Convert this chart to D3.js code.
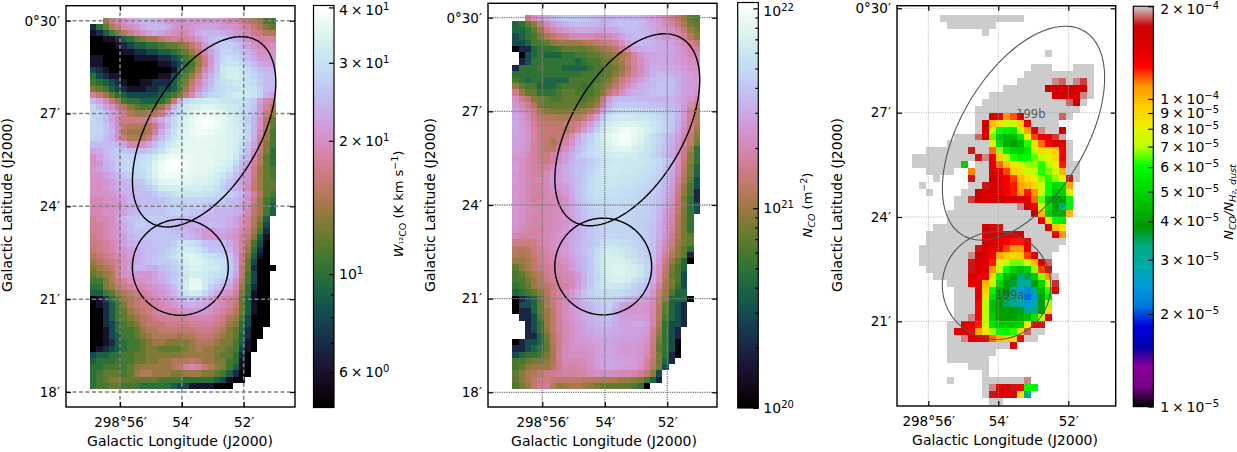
<!DOCTYPE html>
<html>
<head>
<meta charset="utf-8">
<script src="https://cdn.jsdelivr.net/npm/d3@7"></script>
<style>
html, body { margin: 0; padding: 0; background: #fff; }
svg text { font-family: "DejaVu Sans", sans-serif; fill: #000; }
.domain { display: none; }
.tick line { stroke-width: 1.2; }
</style>
</head>
<body>
<svg id="fig" width="1237" height="452"></svg>
<script>
// W12CO in K km/s, one row per map line from the top, 0 = no data
const wcoRows = [
[0,0,14,17,19,20,22,23,24,24,24,23,21,20,20,21,21,21,21,21,21,20,19,19,17,16,15,14,11,11],
[7,10,12,15,17,19,20,21,23,24,25,24,23,21,20,20,21,22,22,22,22,21,21,20,19,18,16,15,13,12],
[6,7,9,11,13,15,17,19,20,22,23,22,21,20,19,19,21,23,24,24,24,23,22,21,20,19,17,17,15,15],
[5,5,6,6,7,9,10,12,13,14,14,16,17,18,17,18,19,21,23,25,26,26,25,23,22,20,19,18,18,18],
[5,5,5,5,6,7,8,9,9,10,10,11,12,12,13,14,16,18,21,24,26,27,27,26,24,22,20,19,19,20],
[5,5,5,5,5,6,6,7,7,8,8,9,9,10,11,12,14,16,19,22,25,28,28,27,26,24,22,20,20,21],
[6,6,5,5,5,5,5,6,6,6,6,7,7,8,9,11,12,14,17,21,25,29,30,29,27,25,23,21,21,21],
[6,6,5,5,5,5,5,5,5,5,5,6,6,7,8,10,11,14,17,21,26,30,31,31,29,27,25,23,22,22],
[8,7,6,5,5,5,5,5,5,5,5,5,5,6,9,11,12,15,19,22,26,31,33,33,31,29,27,25,24,24],
[10,8,7,6,6,5,5,5,5,5,5,6,6,8,10,12,14,17,21,24,27,31,33,33,32,30,28,26,25,25],
[11,10,9,8,7,6,5,5,6,6,7,7,7,9,11,13,16,19,22,25,28,30,31,32,31,30,29,27,25,25],
[13,12,11,9,8,7,6,6,6,7,7,8,8,9,11,14,17,20,23,26,28,29,30,30,31,31,30,28,25,24],
[18,16,14,12,10,9,8,8,8,8,8,9,10,11,13,16,19,23,26,28,29,30,31,32,32,32,31,28,24,22],
[24,22,19,16,14,11,10,10,9,9,9,10,12,16,23,28,30,31,32,32,32,31,31,30,30,29,27,22,19,18],
[28,25,22,20,17,15,13,12,11,11,12,14,17,23,28,31,33,34,35,35,34,33,32,31,30,28,26,21,18,15],
[29,28,25,22,20,17,15,14,14,15,15,17,22,27,30,32,35,37,38,38,36,35,33,31,30,28,25,21,17,14],
[29,27,25,22,19,17,17,17,17,18,20,23,26,29,32,34,37,39,40,40,38,36,34,32,30,27,24,20,15,12],
[29,28,26,23,20,16,15,15,15,15,17,21,25,29,32,34,36,38,39,39,38,36,34,33,31,28,24,20,15,12],
[29,28,26,24,20,15,14,14,14,15,18,23,27,30,33,35,37,38,38,37,36,35,34,33,31,28,24,19,14,11],
[28,27,25,23,20,17,15,15,15,17,21,25,28,31,33,35,36,37,37,36,36,35,34,33,31,28,23,18,14,11],
[25,25,25,25,24,22,19,19,20,22,25,28,31,33,35,36,36,36,36,36,35,35,34,33,30,26,22,17,13,11],
[22,23,25,26,27,26,25,25,25,26,28,30,33,35,36,36,36,36,36,35,35,35,34,33,29,25,20,16,13,10],
[20,22,24,26,27,28,28,28,29,30,32,35,37,38,38,37,37,36,36,36,35,35,34,31,27,24,19,15,12,10],
[20,21,24,25,27,28,29,29,30,31,34,37,39,40,40,38,37,36,36,36,35,34,33,29,25,22,18,15,12,10],
[21,22,23,25,27,28,29,29,30,32,35,38,40,40,39,38,37,36,36,35,34,33,31,27,24,21,17,14,12,11],
[20,21,22,23,25,26,27,28,29,31,34,37,38,38,38,37,36,35,35,34,33,31,28,25,23,20,17,14,12,11],
[20,20,21,22,23,24,25,26,27,29,32,35,36,36,36,35,35,34,34,33,32,29,26,24,22,20,16,14,12,12],
[20,20,21,22,23,24,24,25,26,27,29,32,33,33,33,33,33,33,32,32,30,27,25,24,22,19,16,14,12,12],
[20,20,20,21,22,23,24,25,25,25,26,28,29,30,31,31,31,31,30,30,29,28,27,26,24,21,18,15,12,11],
[19,19,20,20,21,22,24,24,25,25,25,26,27,28,28,28,28,28,28,27,27,26,25,24,23,20,17,14,11,10],
[19,19,19,20,20,22,23,24,25,25,25,26,27,27,27,27,27,27,26,25,25,25,25,24,22,20,16,14,11,9],
[19,19,20,20,21,22,24,25,26,26,26,26,27,28,28,27,26,26,25,25,24,24,24,23,22,19,16,14,11,9],
[18,19,19,20,22,24,26,26,27,27,27,27,26,26,25,25,24,24,24,24,24,24,23,22,20,18,15,13,9,0],
[18,18,19,20,21,23,25,27,27,26,26,26,25,25,24,23,23,24,24,25,25,24,23,22,20,18,15,12,8,0],
[18,18,19,20,21,23,25,26,26,26,26,26,26,25,25,24,23,22,21,21,22,23,22,21,19,17,14,11,7,0],
[17,18,19,20,21,22,24,25,26,26,26,26,26,26,26,25,24,23,21,21,21,22,21,20,18,16,13,9,6,0],
[17,17,18,19,20,22,23,24,25,25,26,26,26,27,30,31,30,28,26,25,25,25,23,21,18,15,11,8,5,0],
[16,17,18,19,20,21,22,23,24,25,25,26,27,29,31,33,33,31,28,26,26,26,24,21,18,14,10,7,5,0],
[15,16,17,18,19,20,22,23,24,25,26,27,28,30,32,34,35,33,31,30,29,28,26,22,17,13,9,6,5,0],
[14,15,16,17,18,20,21,23,24,25,26,27,27,28,30,33,35,35,33,32,31,30,27,23,17,12,8,5,5,0],
[13,14,15,16,18,20,22,24,24,23,23,25,26,27,29,32,34,34,33,32,32,30,27,23,16,12,7,5,5,5],
[12,13,14,15,18,20,21,21,21,21,22,24,25,26,28,31,33,33,32,31,30,29,26,22,16,11,8,5,5,0],
[11,11,13,15,17,18,20,20,20,21,22,23,25,27,29,32,36,35,32,30,28,26,24,20,15,11,8,5,5,0],
[10,10,13,14,16,17,18,19,19,20,21,22,23,25,28,33,37,37,32,28,26,24,22,19,14,10,7,5,5,0],
[9,9,11,12,14,15,16,17,18,19,20,21,22,24,27,31,33,32,29,26,23,21,20,18,13,10,6,5,5,0],
[5,6,8,10,12,14,15,16,17,18,19,20,21,22,24,26,26,25,24,22,20,19,18,17,12,9,6,5,5,0],
[5,6,7,9,11,13,15,16,17,17,18,19,20,21,22,23,24,23,22,21,20,19,18,16,12,9,6,5,5,0],
[5,5,7,9,11,12,14,15,16,17,18,19,19,19,20,21,21,21,21,20,19,18,17,15,12,9,6,5,5,0],
[5,5,7,9,11,12,13,14,15,16,17,18,18,18,18,18,19,19,19,19,18,17,15,14,11,8,5,5,5,0],
[5,5,7,8,10,11,12,13,15,16,16,16,17,17,17,17,18,18,18,18,17,16,14,13,10,8,5,5,5,0],
[5,5,6,8,10,11,11,12,14,15,15,16,16,16,16,16,16,17,17,17,16,15,13,12,10,7,5,5,0,0],
[5,5,6,8,9,11,11,12,13,14,15,15,15,15,14,15,15,16,16,16,15,14,13,12,9,7,5,5,0,0],
[5,5,6,7,9,10,11,11,12,13,14,14,13,13,13,13,14,15,15,15,14,13,13,11,9,6,5,0,0,0],
[5,6,7,8,9,10,11,11,12,13,13,12,12,12,12,13,14,15,14,14,13,13,12,11,8,6,5,0,0,0],
[8,9,9,10,10,11,11,12,12,13,13,13,13,13,13,14,14,14,14,14,13,12,12,10,7,5,0,0,0,0],
[9,10,10,10,11,11,11,12,12,13,13,14,14,15,15,15,16,15,14,14,13,13,11,10,6,5,0,0,0,0],
[10,10,11,11,11,11,12,13,14,14,14,14,14,15,16,18,19,18,16,15,14,13,11,9,6,5,0,0,0,0],
[10,11,12,12,12,11,12,14,15,15,14,14,14,13,13,14,14,14,13,13,12,11,9,7,5,5,0,0,0,0],
[10,11,12,13,13,12,12,12,12,12,12,11,11,11,11,10,10,10,10,10,9,8,6,5,5,0,0,0,0,0],
[10,11,11,12,12,11,11,11,10,10,10,10,10,9,8,8,6,6,6,6,5,5,5,0,0,0,0,0,0,0]
]

// N_CO in units of 1e20 m^-2
const ncoRows = [
[0,0,16,22,26,30,35,40,42,43,42,40,38,35,33,33,34,34,34,34,33,30,27,24,20,16,13,10,7,6],
[4,5,7,9,14,20,25,29,33,35,36,36,35,33,32,33,36,38,38,38,36,32,29,25,21,18,14,11,8,7],
[4,4,5,7,10,15,19,22,25,27,30,30,29,28,27,28,30,34,36,36,35,33,30,26,24,22,18,14,10,8],
[3,4,5,6,8,11,13,15,17,20,20,21,20,19,19,20,23,28,33,35,35,33,30,27,25,24,20,17,12,9],
[3,3,4,6,6,7,9,10,10,10,10,11,12,13,14,15,17,22,28,33,36,35,33,30,29,27,24,20,16,14],
[1,2,2,4,5,5,5,6,7,7,7,7,8,9,10,11,13,17,22,27,30,32,32,31,30,29,26,22,19,17],
[0,1,3,4,5,4,4,4,5,5,6,6,7,7,8,9,10,11,13,18,24,28,29,30,29,28,26,23,20,20],
[0,2,3,5,5,5,5,5,5,5,4,5,6,6,7,8,9,11,14,18,22,26,29,30,29,28,26,24,22,21],
[2,5,5,5,6,5,5,5,4,4,4,4,5,6,6,7,8,10,13,17,21,26,31,32,30,30,28,26,23,23],
[5,5,5,5,5,5,5,5,5,5,5,6,6,6,6,7,9,11,14,18,22,27,33,35,35,32,30,28,26,24],
[6,5,4,5,5,4,4,4,4,6,6,6,6,6,7,8,11,15,18,22,27,31,36,38,38,36,31,28,26,25],
[10,7,6,6,4,4,4,5,6,6,6,5,6,7,8,10,13,17,22,27,31,33,36,40,40,38,32,28,26,25],
[16,10,7,7,5,5,5,6,7,7,6,6,6,7,9,13,17,22,28,31,33,35,37,38,38,36,32,28,26,24],
[22,16,13,9,8,7,6,6,7,7,7,6,7,8,14,24,33,36,36,36,35,34,34,33,33,33,30,27,23,20],
[24,20,16,12,8,7,7,7,7,7,7,7,8,10,17,30,40,42,42,42,40,40,38,37,36,34,31,26,21,16],
[27,22,19,15,11,9,8,8,8,8,9,10,12,15,26,38,48,52,52,52,50,48,46,44,42,38,33,25,17,12],
[29,25,20,16,13,12,12,11,11,12,12,14,18,26,40,55,62,65,65,62,60,58,54,50,46,42,33,24,17,12],
[30,25,22,17,14,13,13,13,14,15,16,20,26,36,50,65,72,75,76,74,70,66,60,54,48,42,32,23,16,12],
[29,26,23,18,16,14,14,13,13,14,18,24,32,44,58,70,80,90,92,88,78,70,62,54,48,40,30,21,15,10],
[28,26,24,19,15,14,13,14,16,21,28,38,46,55,68,80,90,100,100,85,75,65,55,46,40,33,26,19,14,9],
[27,26,23,18,15,13,11,14,18,24,32,40,48,55,66,76,85,95,92,80,72,62,54,46,40,32,25,18,13,8],
[27,25,22,18,15,13,13,17,22,28,35,42,50,55,62,70,76,80,76,72,66,60,52,45,38,30,24,16,11,5],
[25,24,21,18,15,15,18,22,26,32,38,45,52,56,60,64,68,70,68,65,60,55,48,42,36,29,22,15,9,5],
[24,22,20,18,15,15,17,22,27,32,36,38,42,48,55,60,62,62,62,62,60,58,54,50,43,33,23,14,9,5],
[26,23,20,18,17,18,21,26,30,35,38,40,45,52,58,62,64,62,62,60,58,55,52,47,40,31,21,13,8,4],
[25,22,20,18,18,20,24,26,30,34,38,42,48,54,58,62,62,60,58,58,55,53,50,45,38,28,20,12,8,4],
[25,23,20,19,19,21,24,26,30,33,37,42,50,55,58,60,60,58,56,55,52,50,48,43,36,27,18,11,7,3],
[24,23,20,18,18,21,24,24,27,32,38,44,52,55,58,58,57,55,54,52,50,48,46,40,35,25,16,10,6,3],
[24,22,20,18,18,20,22,22,25,30,37,43,50,54,55,55,54,53,52,50,48,46,44,38,33,24,15,9,6,2],
[24,22,20,17,18,20,20,20,23,29,36,43,48,50,52,52,52,50,50,48,46,44,42,36,32,23,14,8,5,2],
[25,23,21,19,19,20,21,22,24,29,35,40,46,50,50,52,52,50,50,48,46,45,42,36,30,22,14,9,5,3],
[25,23,21,20,19,20,21,22,24,28,33,38,43,46,47,48,50,50,48,47,45,44,41,35,28,20,13,8,5,3],
[24,22,20,19,19,20,21,22,24,27,32,37,42,46,47,48,50,50,48,47,45,44,40,33,26,19,12,8,5,0],
[24,22,20,19,19,20,21,22,24,27,31,36,41,45,47,48,48,48,47,46,44,42,38,32,25,18,12,8,5,0],
[23,20,19,18,18,20,21,23,25,28,32,36,40,44,46,48,48,48,47,46,44,42,38,32,25,17,11,8,5,0],
[20,18,18,18,19,20,22,24,26,29,33,36,40,42,46,50,50,48,48,46,44,42,38,31,24,16,11,8,7,0],
[16,15,15,16,18,20,22,24,26,30,34,37,40,44,52,55,55,52,50,48,45,43,38,30,22,15,10,8,7,0],
[13,12,13,15,17,19,22,24,26,30,34,38,42,50,60,65,62,58,55,50,46,43,38,28,20,13,9,7,5,0],
[12,11,12,14,16,18,21,23,25,28,32,37,42,52,62,70,68,62,58,52,48,44,37,27,18,12,9,7,2,0],
[10,10,11,13,16,18,20,21,23,26,31,35,42,52,62,72,72,70,66,60,52,46,36,25,16,10,7,4,1,0],
[7,9,11,13,15,17,18,19,21,25,30,34,42,52,62,72,75,75,72,68,60,48,33,23,14,8,6,4,0,0],
[6,7,9,11,13,16,18,19,20,22,27,33,42,50,60,70,75,75,72,66,58,46,32,22,13,7,6,3,0,0],
[6,6,8,10,12,15,17,18,19,21,25,32,40,48,58,66,72,72,68,60,50,42,30,20,12,8,6,3,0,0],
[5,6,7,10,11,13,15,17,18,21,26,33,42,52,60,62,62,60,55,48,42,35,27,18,11,8,5,3,0,0],
[4,5,6,7,9,12,15,18,20,24,30,38,45,50,52,52,52,50,47,44,38,32,24,15,10,6,4,4,0,0],
[1,2,3,4,7,11,15,18,21,25,30,36,40,44,48,48,46,42,36,32,29,26,22,14,9,4,4,4,1,0],
[1,3,3,4,7,11,14,18,21,25,28,32,35,40,44,46,36,28,25,26,25,24,20,13,7,4,3,2,0,0],
[1,2,2,4,7,10,13,17,21,24,28,30,33,38,42,44,32,26,24,24,24,23,19,12,7,4,3,2,0,0],
[0,2,2,3,6,10,13,17,21,24,27,30,32,35,38,40,32,27,26,26,26,25,19,12,6,4,3,2,0,0],
[0,0,2,3,5,10,13,17,21,23,26,28,31,33,34,34,30,28,28,29,30,27,19,11,5,3,3,2,0,0],
[0,0,2,3,5,9,13,17,20,22,25,27,29,31,32,32,30,29,28,28,28,26,17,10,5,3,2,0,0,0],
[0,0,2,2,4,8,12,16,20,23,25,26,28,29,30,30,29,28,28,28,26,24,16,9,5,3,2,0,0,0],
[1,2,3,3,4,7,12,16,20,23,25,25,26,27,28,28,27,26,26,26,25,22,15,8,5,3,1,0,0,0],
[2,2,3,4,5,7,11,16,21,23,23,23,24,26,28,28,27,26,25,25,24,20,14,7,5,3,1,0,0,0],
[3,4,5,5,6,8,11,16,21,22,22,22,23,26,28,28,27,26,25,25,24,20,14,8,5,2,1,0,0,0],
[6,6,7,8,8,9,11,16,20,20,20,21,23,26,29,29,28,28,27,26,24,18,13,8,4,2,0,0,0,0],
[6,7,9,10,10,10,12,16,19,19,19,20,22,25,28,29,28,27,26,26,23,17,12,8,3,0,0,0,0,0],
[7,9,11,12,13,15,16,17,18,18,18,19,21,22,22,22,21,20,20,19,17,14,9,3,0,0,0,0,0,0],
[7,9,11,13,15,15,14,13,13,13,13,12,12,12,11,11,11,10,10,9,8,6,4,2,0,0,0,0,0,0],
[6,8,10,13,16,16,12,9,10,11,11,10,9,8,7,7,7,7,7,6,5,1,0,0,0,0,0,0,0,0]
]

// N_CO / N_H2 in units of 1e-6, g = at or above the top of the scale
const g = 200
const ratioRows = [
[0,0,0,0,g,g,g,g,g,g,g,g,g,g,g,g],
[0,0,0,0,0,g,g,g,g,g,g,g],
[0,0,0,0,0,0,0,0,0,0,g],
[],
[],
[0,0,0,0,0,0,0,0,0,0,0,0,0,0,0,0,0,0,0,g],
[],
[0,0,0,0,0,0,0,0,0,0,0,0,0,0,0,0,0,g,g,g,0,0,0,g,g,g],
[0,0,0,0,0,0,0,0,0,0,0,0,0,0,0,0,g,g,g,g,g,g,g,g,g,g],
[0,0,0,0,0,0,0,0,0,0,0,0,0,0,0,g,g,g,g,g,190,185,g,190,180,g],
[0,0,0,0,0,0,0,0,0,0,0,0,0,g,g,g,g,g,g,165,160,160,160,160,160,g],
[0,0,0,0,0,0,0,0,0,0,0,g,g,g,g,g,g,g,g,g,165,155,155,145,190,g],
[0,0,0,0,0,0,0,0,0,0,g,g,g,g,g,g,g,g,g,g,g,g,185,165,g],
[0,0,0,0,0,0,0,0,0,g,g,g,g,g,g,g,g,g,g,g,g,g,g,g],
[0,0,0,0,0,0,0,0,0,g,g,155,135,110,118,145,g,g,g,g,g,185,g],
[0,0,0,0,0,0,0,0,0,g,160,100,85,72,72,95,150,g,g,g,g],
[0,0,0,0,0,0,0,0,0,g,155,72,60,58,55,72,105,150,190,g,g,170],
[0,0,0,0,0,0,g,g,g,185,150,65,48,45,45,55,82,120,145,145,180,195],
[0,0,0,0,0,g,g,g,g,g,g,82,52,42,40,45,62,88,115,130,148,150,g],
[0,0,g,g,g,g,g,g,175,g,g,115,68,55,50,50,55,70,90,85,95,135,g],
[g,g,g,g,g,g,g,g,g,175,190,135,92,70,62,58,60,65,72,78,90,135,g],
[g,g,g,g,g,g,g,50,0,g,g,150,115,98,85,75,68,68,62,70,80,125,g,g],
[0,0,g,g,g,g,0,0,112,g,g,155,140,120,95,88,75,72,62,66,75,100,g,g],
[0,0,0,g,0,0,0,0,175,g,g,170,145,135,120,100,88,80,67,62,68,80,175,g],
[0,g,0,0,0,0,0,0,g,g,175,150,145,135,125,105,100,90,75,60,52,55,105],
[0,0,g,0,0,0,0,g,g,170,155,150,145,135,125,110,125,110,72,60,48,50,78],
[0,0,0,0,0,0,g,g,180,160,155,155,155,155,155,155,150,115,65,45,38,40,58],
[0,0,0,0,0,0,g,g,g,g,g,g,g,g,g,190,165,135,72,52,40,33,58],
[0,0,0,0,0,g,g,g,g,g,g,g,g,g,g,g,g,170,100,50,42,42,100],
[0,0,0,0,0,g,g,g,g,g,g,g,g,g,g,g,g,g,150,85,58,55],
[0,0,0,g,g,g,g,g,g,g,165,150,175,g,g,g,g,g,g,150,95,85],
[0,0,g,g,g,g,g,g,g,g,150,150,145,145,145,150,g,g,g,g,140,110],
[0,0,g,g,g,g,g,g,g,g,150,150,140,130,125,125,135,g,g,g,g,g],
[0,g,g,g,g,g,g,g,g,175,150,150,135,120,110,110,145,g,g,g,g],
[0,g,g,g,g,g,g,g,190,165,150,135,105,95,92,95,120,155,g,g],
[0,g,g,g,g,g,g,g,175,155,150,125,82,72,66,66,75,100,150,185],
[0,0,g,g,g,g,g,g,175,155,150,110,72,60,50,45,50,68,120,175],
[0,0,0,g,g,g,g,g,150,150,135,88,60,45,40,33,35,48,68,110,g],
[0,0,0,0,0,g,g,g,140,140,100,70,50,40,36,30,30,40,50,75,178],
[0,0,0,0,0,0,g,g,g,145,92,58,42,38,33,25,23,33,45,62,145],
[0,0,0,0,0,0,g,g,g,145,85,52,40,36,33,27,21,24,40,55],
[0,0,0,0,0,0,g,g,g,130,70,45,38,35,33,30,25,28,38,68],
[0,0,0,0,0,0,g,g,g,130,70,46,40,40,38,37,33,33,40,88],
[0,0,0,0,0,0,g,g,190,130,72,48,40,40,40,43,45,55,70,150],
[0,0,0,0,0,g,g,150,145,125,72,52,48,48,48,50,82,130,175],
[0,0,0,0,0,g,150,145,130,105,85,68,60,58,62,88,185,g,g],
[0,0,0,0,0,g,g,190,150,148,135,115,100,95,88,130,g,g],
[0,0,0,0,0,g,g,g,g,g,g,g,g,g,150],
[0,0,0,0,0,g,g,g,g,g,g,g],
[0,0,0,0,0,g,g,g,g,g,g],
[0,0,0,0,0,0,0,0,g,g,g],
[0,0,0,0,0,0,0,0,0,0,g],
[0,0,0,0,0,g,0,0,0,0,g,g,g,g,g,g,190],
[0,0,0,0,0,0,0,0,0,0,g,190,150,150,175,130,60,58],
[0,0,0,0,0,0,0,0,0,0,g,175,150,150,150,85,33],
[0,0,0,0,0,0,0,0,0,0,0,g,g]
]

// arcmin of longitude past 298 deg and of latitude past 0 deg
const lonTicks = [56, 54, 52]
const lonLabels = ["298°56′", "54′", "52′"]
const latTicks = [30, 27, 24, 21, 18]
const latLabels = ["0°30′", "27′", "24′", "21′", "18′"]

// regions: [lon, lat, major, minor, tilt in deg]
const regionB = [53.28, 26.41, 3.41, 1.79, 30.5]
const regionA = [54.05, 22.03, 1.55, 1.55, 0]

const wcoTicks = [40, 30, 20, 10, 6]
const wcoMinor = [9, 8, 7]
const ncoTicks = [1e22, 1e21, 1e20]
const ncoMinor = [9e21, 8e21, 7e21, 6e21, 5e21, 4e21, 3e21, 2e21, 9e20, 8e20, 7e20, 6e20, 5e20, 4e20, 3e20, 2e20]
const ratioTicks = [2e-4, 1e-4, 9e-5, 8e-5, 7e-5, 6e-5, 5e-5, 4e-5, 3e-5, 2e-5, 1e-5]

// matplotlib nipy_spectral
const spectralR = [0,.4667,.5333,0,0,0,0,0,0,0,0,0,0,.7333,.9333,1,1,1,.8667,.8,.8]
const spectralG = [0,0,0,0,0,.4667,.6,.6667,.6667,.6,.7333,.8667,1,1,.9333,.8,.6,0,0,0,.8]
const spectralB = [0,.5333,.6,.6667,.8667,.8667,.8667,.6667,.5333,0,0,0,0,0,0,0,0,0,0,0,.8]

const lonStep = 0.2, latStep = 0.2

const spectral = (t) => {
    const p = Math.max(0, Math.min(0.9999, t)) * 20, i = Math.floor(p), f = p - i
    const mix = (a) => Math.round(255 * (a[i] + (a[i + 1] - a[i]) * f))
    return `rgb(${mix(spectralR)},${mix(spectralG)},${mix(spectralB)})`
}

const svg = d3.select("#fig")

// value = text as  m x 10^e, or 10^e if m is null
function mathLabel(sel, m, e) {
    sel.text(null)
    sel.append("tspan").text(m === null ? "10" : `${m}\u2009×\u200910`)
    sel.append("tspan").attr("dy", -5).attr("font-size", 10).text(e)
}

function panel(opt) {
    const x = d3.scaleLinear().domain([56, 52]).range(opt.xRange)
    const y = d3.scaleLinear().domain([30, 18]).range(opt.yRange)
    const [L, R, T, B] = opt.box
    const W = R - L, H = B - T
    const id = opt.name
    svg.append("clipPath").attr("id", id).append("rect")
        .attr("x", L).attr("y", T).attr("width", W).attr("height", H)

    const plot = svg.append("g").attr("clip-path", `url(#${id})`)

    // cells
    const cells = plot.append("g").attr("shape-rendering", "crispEdges")
    opt.rows.forEach((row, j) => {
        row.forEach((v, i) => {
            if (!v) return
            const x0 = x(opt.lon0 - i * lonStep), x1 = x(opt.lon0 - (i + 1) * lonStep)
            const y0 = y(opt.lat0 - j * latStep), y1 = y(opt.lat0 - (j + 1) * latStep)
            cells.append("rect")
                .attr("x", x0).attr("y", y0)
                .attr("width", x1 - x0).attr("height", y1 - y0)
                .attr("fill", opt.color(v))
        })
    })

    // grid
    const grid = svg.append("g").attr("fill", "none")
        .attr("stroke", opt.gridColor).attr("stroke-width", opt.gridWidth)
        .attr("stroke-dasharray", opt.gridDash)
    lonTicks.forEach((t) => grid.append("line").attr("x1", x(t)).attr("x2", x(t)).attr("y1", T).attr("y2", B))
    latTicks.forEach((t) => {
        if (y(t) > B) return
        grid.append("line").attr("x1", L).attr("x2", R).attr("y1", y(t)).attr("y2", y(t))
    })

    // regions
    const outline = d3.line().x((d) => x(d[0])).y((d) => y(d[1]))
    ;[regionB, regionA].forEach((r) => {
        const th = r[4] * Math.PI / 180
        const pts = d3.range(0, 361, 3).map((a) => {
            const t = a * Math.PI / 180
            const u = r[2] * Math.cos(t), v = r[3] * Math.sin(t)
            return [r[0] - (u * Math.sin(th) + v * Math.cos(th)), r[1] + (u * Math.cos(th) - v * Math.sin(th))]
        })
        plot.append("path").attr("d", outline(pts) + "Z").attr("fill", "none")
            .attr("stroke", opt.regionColor).attr("stroke-width", opt.regionWidth)
    })

    if (opt.notes) {
        opt.notes.forEach((n) => {
            svg.append("text").attr("x", x(n[1])).attr("y", y(n[2]))
                .attr("text-anchor", "middle").attr("dominant-baseline", "middle")
                .attr("font-size", 11.5).style("fill", "#444").attr("fill-opacity", 0.85).text(n[0])
        })
    }

    // axes, ticks pointing in on all four sides
    const latVisible = latTicks.filter((t) => y(t) < B)
    svg.append("g").attr("transform", `translate(0,${B})`)
        .call(d3.axisBottom(x).tickValues(lonTicks).tickSize(-5).tickPadding(10)
            .tickFormat((d, i) => lonLabels[i]))
        .attr("font-size", 13.5)
    svg.append("g").attr("transform", `translate(0,${T})`)
        .call(d3.axisTop(x).tickValues(lonTicks).tickSize(-5).tickFormat(""))
    svg.append("g").attr("transform", `translate(${L},0)`)
        .call(d3.axisLeft(y).tickValues(latVisible).tickSize(-5).tickPadding(opt.latPad)
            .tickFormat((d) => latLabels[latTicks.indexOf(d)]))
        .attr("font-size", 13.5)
    svg.append("g").attr("transform", `translate(${R},0)`)
        .call(d3.axisRight(y).tickValues(latVisible).tickSize(-5).tickFormat(""))

    svg.append("rect").attr("x", L).attr("y", T).attr("width", W).attr("height", H)
        .attr("fill", "none").attr("stroke", "#000").attr("stroke-width", 1.4)

    svg.append("text").attr("x", opt.xLabel[0]).attr("y", opt.xLabel[1])
        .attr("text-anchor", "middle").attr("font-size", 14).text("Galactic Longitude (J2000)")
    svg.append("text").attr("transform", `translate(${opt.yLabel[0]},${opt.yLabel[1]}) rotate(-90)`)
        .attr("text-anchor", "middle").attr("font-size", 14).text("Galactic Latitude (J2000)")
}

function colorbar(opt) {
    const [L, R, T, B] = opt.box
    const y = d3.scaleLog().domain(opt.domain).range([B, T])
    const g0 = svg.append("g").attr("shape-rendering", "crispEdges")
    d3.range(Math.ceil(T), Math.ceil(B)).forEach((p) => {
        g0.append("rect").attr("x", L).attr("y", p).attr("width", R - L).attr("height", 1.2)
            .attr("fill", opt.color(y.invert(p + 0.5)))
    })
    const axis = svg.append("g").attr("transform", `translate(${R},0)`)
        .call(d3.axisRight(y).tickValues(opt.ticks).tickSize(-5).tickPadding(opt.pad).tickFormat(""))
    axis.selectAll(".tick text").attr("font-size", 14).each(function (d) {
        const s = d3.select(this)
        opt.label(s, d)
        // keep the top superscript inside the picture
        if (y(d) < 12) s.attr("y", 0).attr("dy", "0.5em")
    })
    if (opt.minor) {
        svg.append("g").attr("transform", `translate(${R},0)`)
            .call(d3.axisRight(y).tickValues(opt.minor).tickSize(-3).tickFormat(""))
    }
    svg.append("rect").attr("x", L).attr("y", T).attr("width", R - L).attr("height", B - T)
        .attr("fill", "none").attr("stroke", "#000").attr("stroke-width", 1.2)
}

// --- colour scales
const wcoT = d3.scaleLog().domain([5, 40.4]).range([0, 1]).clamp(true)
const wcoColor = (v) => d3.interpolateCubehelixDefault(wcoT(v))
const ncoT = d3.scaleLog().domain([1e20, 1.07e22]).range([0, 1]).clamp(true)
const ncoColor = (v) => d3.interpolateCubehelixDefault(ncoT(v))
const ratioT = d3.scaleLog().domain([1e-5, 2e-4]).range([0, 1]).clamp(true)
const ratioColor = (v) => spectral(ratioT(v))

panel({
    name: "p1", rows: wcoRows, color: (v) => wcoColor(v), lon0: 56.96, lat0: 30.1,
    box: [66, 295, 5.7, 407], xRange: [120, 243.7], yRange: [20.7, 392],
    gridColor: "#808080", gridWidth: 1.5, gridDash: "4,2.5",
    regionColor: "#000", regionWidth: 1.4, latPad: 6,
    xLabel: [180, 446], yLabel: [12, 205]
})
panel({
    name: "p2", rows: ncoRows, color: (v) => ncoColor(v * 1e20), lon0: 56.96, lat0: 30.1,
    box: [488, 717, 3.3, 407], xRange: [542.3, 667.3], yRange: [17.7, 392.3],
    gridColor: "#808080", gridWidth: 1.3, gridDash: "1.3,1",
    regionColor: "#000", regionWidth: 1.4, latPad: 6,
    xLabel: [604, 446], yLabel: [435, 205]
})
panel({
    name: "p3", rows: ratioRows, color: (v) => ratioColor(v * 1e-6), lon0: 56.46, lat0: 29.8,
    box: [897, 1115.7, 5.7, 406], xRange: [928.3, 1068.3], yRange: [8.3, 425.7],
    gridColor: "#aaaaaa", gridWidth: 0.9, gridDash: "1,1.4",
    regionColor: "#555555", regionWidth: 1.1, latPad: 6,
    xLabel: [1005, 445], yLabel: [842, 205],
    notes: [["199b", 53.07, 26.95], ["199a", 53.67, 21.73]]
})

colorbar({
    box: [313.5, 334, 5.5, 407.5], domain: [5, 40.4], color: wcoColor,
    ticks: wcoTicks, minor: wcoMinor, pad: 5,
    label: (s, d) => d === 10 ? mathLabel(s, null, "1") : d === 6 ? mathLabel(s, 6, "0") : mathLabel(s, d / 10, "1")
})
colorbar({
    box: [737.7, 758.3, 2.5, 408], domain: [1e20, 1.07e22], color: ncoColor,
    ticks: ncoTicks, minor: ncoMinor, pad: 5,
    label: (s, d) => mathLabel(s, null, String(Math.round(Math.log10(d))))
})
colorbar({
    box: [1133.3, 1153.3, 6.3, 406.6], domain: [1e-5, 2e-4], color: ratioColor,
    ticks: ratioTicks, pad: 7,
    label: (s, d) => {
        const e = Math.floor(Math.log10(d) + 1e-9)
        mathLabel(s, Math.round(d / Math.pow(10, e)), "−" + (-e))
    }
})

// rotated colour bar titles
function barTitle(px, py, build) {
    const t = svg.append("text").attr("transform", `translate(${px},${py}) rotate(-90)`)
        .attr("text-anchor", "middle").attr("font-size", 13)
    build(t)
}
barTitle(403, 204, (t) => {
    t.append("tspan").attr("font-style", "italic").text("W")
    t.append("tspan").attr("font-size", 9.5).attr("dy", 3).text("¹²CO")
    t.append("tspan").attr("dy", -3).text(" (K km s")
    t.append("tspan").attr("font-size", 9.5).attr("dy", -5).text("−1")
    t.append("tspan").attr("dy", 5).text(")")
})
barTitle(812, 205, (t) => {
    t.append("tspan").attr("font-style", "italic").text("N")
    t.append("tspan").attr("font-size", 9.5).attr("font-style", "italic").attr("dy", 3).text("CO")
    t.append("tspan").attr("dy", -3).text(" (m")
    t.append("tspan").attr("font-size", 9.5).attr("dy", -5).text("−2")
    t.append("tspan").attr("dy", 5).text(")")
})
barTitle(1233, 202, (t) => {
    t.append("tspan").attr("font-style", "italic").text("N")
    t.append("tspan").attr("font-size", 9.5).attr("font-style", "italic").attr("dy", 3).text("CO")
    t.append("tspan").attr("dy", -3).attr("font-style", "italic").text("/N")
    t.append("tspan").attr("font-size", 9.5).attr("dy", 3).attr("font-style", "italic").text("H₂, dust")
})
</script>
</body>
</html>
